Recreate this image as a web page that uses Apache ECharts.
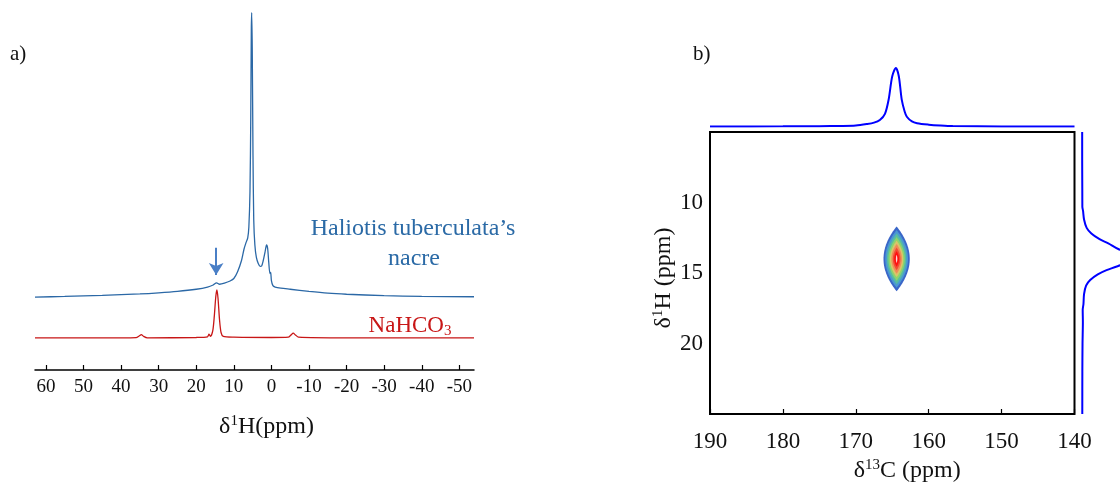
<!DOCTYPE html>
<html><head><meta charset="utf-8">
<script src="https://cdn.jsdelivr.net/npm/echarts@6/dist/echarts.min.js"></script>
<style>html,body{margin:0;padding:0;background:#fff}#c{width:1120px;height:483px}</style>
</head><body><div id="c"></div>
<script>
// ---------- data (panel a) ----------
const ticksH1D = [60, 50, 40, 30, 20, 10, 0, -10, -20, -30, -40, -50];
const nacreShift =     [62.9, 55, 45, 35, 30, 25, 20, 17, 15.5, 14.6, 13.8, 12.5, 11, 10, 9, 8, 7.3, 6.8, 6.3, 6.0, 5.7, 5.5, 5.35, 5.25, 5.1, 4.9, 4.7, 4.4, 4.0, 3.5, 3.0, 2.6, 2.2, 1.7, 1.3, 1.0, 0.7, 0.4, 0.2, 0.0, -0.4, -1, -2.5, -5, -10, -15, -20, -30, -40, -53.9];
const nacreIntensity = [20.4, 20.6, 20.9, 21.3, 21.6, 22.0, 22.6, 23.2, 23.8, 24.4, 24.0, 24.3, 24.9, 25.6, 27.5, 30.5, 33.8, 35.5, 37, 40, 50, 70, 95, 100, 90, 60, 42, 35, 31.5, 29.8, 29.0, 29.1, 30.5, 33, 35, 34, 30, 27, 27.3, 25, 23.6, 23.2, 22.9, 22.6, 22.0, 21.5, 21.2, 20.8, 20.6, 20.5];
const bicarbShift =     [62.9, 40, 36, 35.2, 34.6, 34.0, 33, 20, 17, 16.6, 16.2, 15.6, 15.2, 14.8, 14.5, 14.2, 13.8, 13.4, 12.8, 10, 0, -4.5, -5.2, -5.8, -6.4, -7.2, -20, -53.9];
const bicarbIntensity = [9.0, 9.0, 9.05, 9.5, 9.9, 9.4, 9.0, 9.1, 9.3, 10.0, 9.4, 11, 15, 20.5, 22.4, 20, 14, 10.5, 9.4, 9.2, 9.1, 9.2, 9.8, 10.3, 9.8, 9.2, 9.0, 9.0];
const arrowShift = 14.7;
const arrowFromTo = [34.2, 26.6];

// ---------- data (panel b) ----------
const carbonTicks = [190, 180, 170, 160, 150, 140];
const protonTicks = [10, 15, 20];
const carbonProjShift =     [190, 180, 175, 172, 170, 168.5, 167.5, 166.7, 166, 165.5, 165.0, 164.5, 164.1, 163.7, 163.3, 163.0, 162.3, 161.6, 160, 158.4, 156.7, 150, 140];
const carbonProjIntensity = [0.5, 0.6, 0.9, 1.2, 2, 4.5, 7, 11.5, 22, 46, 86, 100, 86, 46, 26, 17, 9, 6, 3.5, 2, 1, 0.5, 0.5];
const protonProjShift =     [5.0, 7, 9, 10.3, 10.6, 11.2, 11.8, 12.2, 12.6, 12.9, 13.3, 13.6, 13.9, 14.2, 14.5, 14.8, 15.1, 15.5, 15.9, 16.5, 17.2, 17.6, 18.5, 20, 22, 25];
const protonProjIntensity = [0.3, 0.3, 0.5, 0.6, 1.8, 3.5, 8, 16, 30, 45, 62, 85, 100, 85, 62, 42, 27, 14, 7, 3.5, 2.5, 1.2, 1.5, 0.9, 0.6, 0.5];
const contourCenterC = 164.4;
const contourCenterH = 14.0;
const contourHalfWidthC  = [1.8, 1.56, 1.33, 1.12, 0.92, 0.72, 0.52, 0.33, 0.1];
const contourHalfHeightH = [2.3, 2.05, 1.8, 1.55, 1.3, 1.05, 0.8, 0.55, 0.3];

// ---------- styles ----------
const contourPalette = ['#3a66c8', '#4a98d2', '#58bda0', '#8cd46c', '#d9c46a', '#f08a58', '#f24a34', '#ff1010', '#ffd8d8'];
const serif = '"Liberation Serif", "Times New Roman", serif';
const ink = '#111';

const zip = (a, b) => a.map((v, i) => [v, b[i]]);

const chart = echarts.init(document.getElementById('c'), null, {renderer: 'canvas'});

const option = {
  animation: false,
  backgroundColor: '#fff',
  grid: [
    {left: 35, right: 646, top: 12.7, bottom: 113, outerBoundsMode: 'none', containLabel: false},
    {left: 710, right: 45.5, top: 132, bottom: 69, show: true, borderColor: '#000', borderWidth: 2, backgroundColor: 'transparent', outerBoundsMode: 'none', containLabel: false},
    {left: 710, right: 45.5, top: 68, height: 58.7, outerBoundsMode: 'none', containLabel: false},
    {left: 1082, right: 0, top: 132, bottom: 69, outerBoundsMode: 'none', containLabel: false}
  ],
  xAxis: [
    {gridIndex: 0, type: 'value', min: -53.9, max: 62.9, inverse: true,
     name: '{n|δ}{s|1}{n|H(ppm)}', nameLocation: 'middle', nameGap: 44,
     nameTextStyle: {padding: [0, 0, 0, 24], rich: {n: {fontFamily: serif, fontSize: 24, color: ink, lineHeight: 26}, s: {fontFamily: serif, fontSize: 15, color: ink, verticalAlign: 'top', lineHeight: 26, padding: [0, 0, 9, 0]}}},
     axisLine: {show: true, onZero: false, lineStyle: {color: '#000', width: 1.5}},
     axisTick: {show: true, inside: true, length: 5, customValues: ticksH1D, lineStyle: {color: '#000', width: 1.2}},
     axisLabel: {customValues: ticksH1D, margin: 8, fontFamily: serif, fontSize: 19, color: ink},
     splitLine: {show: false}},
    {gridIndex: 1, type: 'value', min: 140, max: 190, interval: 10, inverse: true,
     name: '{n|δ}{s|13}{n|C (ppm)}', nameLocation: 'middle', nameGap: 39,
     nameTextStyle: {padding: [0, 0, 0, 30], rich: {n: {fontFamily: serif, fontSize: 24, color: ink, lineHeight: 26}, s: {fontFamily: serif, fontSize: 15, color: ink, verticalAlign: 'top', lineHeight: 26, padding: [0, 0, 9, 0]}}},
     axisLine: {show: false},
     axisTick: {show: true, inside: true, length: 5, lineStyle: {color: '#000', width: 1.2}},
     axisLabel: {margin: 16, fontFamily: serif, fontSize: 23, color: ink},
     splitLine: {show: false}},
    {gridIndex: 2, type: 'value', min: 140, max: 190, inverse: true, show: false},
    {gridIndex: 3, type: 'value', min: 0, max: 65, show: false}
  ],
  yAxis: [
    {gridIndex: 0, type: 'value', min: 0, max: 100, show: false},
    {gridIndex: 1, type: 'value', min: 5, max: 25, interval: 5, inverse: true,
     name: '{n|δ}{s|1}{n|H (ppm)}', nameLocation: 'middle', nameGap: 33,
     nameTextStyle: {padding: [0, 10, 0, 0], rich: {n: {fontFamily: serif, fontSize: 24, color: ink, lineHeight: 26}, s: {fontFamily: serif, fontSize: 15, color: ink, verticalAlign: 'top', lineHeight: 26, padding: [0, 0, 9, 0]}}},
     axisLine: {show: false}, axisTick: {show: false},
     axisLabel: {customValues: protonTicks, margin: 7, fontFamily: serif, fontSize: 23, color: ink},
     splitLine: {show: false}},
    {gridIndex: 2, type: 'value', min: 0, max: 100, show: false},
    {gridIndex: 3, type: 'value', min: 5, max: 25, inverse: true, show: false}
  ],
  series: [
    {type: 'line', name: 'nacre', xAxisIndex: 0, yAxisIndex: 0, data: zip(nacreShift, nacreIntensity),
     showSymbol: false, smooth: 0.25, lineStyle: {color: '#2b68a6', width: 1.3}, itemStyle: {color: '#2b68a6'}, silent: true,
     markLine: {silent: true, symbol: ['none', 'arrow'], symbolSize: [11, 12], label: {show: false},
       lineStyle: {color: '#4a7fc6', width: 2, type: 'solid'},
       data: [[{coord: [arrowShift, arrowFromTo[0]]}, {coord: [arrowShift, arrowFromTo[1]]}]]}},
    {type: 'line', name: 'NaHCO3', xAxisIndex: 0, yAxisIndex: 0, data: zip(bicarbShift, bicarbIntensity),
     showSymbol: false, smooth: 0.25, lineStyle: {color: '#c81616', width: 1.3}, itemStyle: {color: '#c81616'}, silent: true},
    {type: 'custom', name: 'contour', xAxisIndex: 1, yAxisIndex: 1,
     data: contourHalfWidthC.map((hw, i) => [contourCenterC, contourCenterH, hw, contourHalfHeightH[i], i]),
     renderItem: function (params, api) {
       const cx = api.value(0), cy = api.value(1), hw = api.value(2), hh = api.value(3), lvl = api.value(4);
       const pts = [];
       const N = 40;
       for (let k = 0; k <= N; k++) {
         const s = -1 + 2 * k / N;
         pts.push(api.coord([cx + hw * (1 - s * s), cy + s * hh]));
       }
       for (let k = N - 1; k > 0; k--) {
         const s = -1 + 2 * k / N;
         pts.push(api.coord([cx - hw * (1 - s * s), cy + s * hh]));
       }
       return {type: 'polygon', shape: {points: pts}, style: {fill: contourPalette[lvl]}};
     }, silent: true, z: 2},
    {type: 'line', name: 'F2 projection', xAxisIndex: 2, yAxisIndex: 2, data: zip(carbonProjShift, carbonProjIntensity),
     showSymbol: false, smooth: 0.3, lineStyle: {color: '#0000ff', width: 2}, silent: true},
    {type: 'line', name: 'F1 projection', xAxisIndex: 3, yAxisIndex: 3, data: zip(protonProjIntensity, protonProjShift),
     showSymbol: false, smooth: 0.3, clip: true, lineStyle: {color: '#0000ff', width: 2}, silent: true}
  ],
  graphic: [
    {type: 'text', left: 10, top: 44, style: {text: 'a)', fontFamily: serif, fontSize: 21, fill: ink}},
    {type: 'text', left: 693, top: 44, style: {text: 'b)', fontFamily: serif, fontSize: 21, fill: ink}},
    {type: 'text', x: 413, y: 229, style: {text: 'Haliotis tuberculata’s', fontFamily: serif, fontSize: 24, fill: '#2b6aa6', align: 'center', verticalAlign: 'middle'}},
    {type: 'text', x: 414, y: 259, style: {text: 'nacre', fontFamily: serif, fontSize: 24, fill: '#2b6aa6', align: 'center', verticalAlign: 'middle'}},
    {type: 'text', x: 410, y: 326, style: {text: '{n|NaHCO}{b|3}', align: 'center', verticalAlign: 'middle', fill: '#c81616',
      rich: {n: {fontFamily: serif, fontSize: 23, fill: '#c81616', lineHeight: 26}, b: {fontFamily: serif, fontSize: 15, fill: '#c81616', verticalAlign: 'bottom', lineHeight: 26, padding: [16, 0, 0, 0]}}}}
  ]
};
chart.setOption(option);
</script></body></html>
